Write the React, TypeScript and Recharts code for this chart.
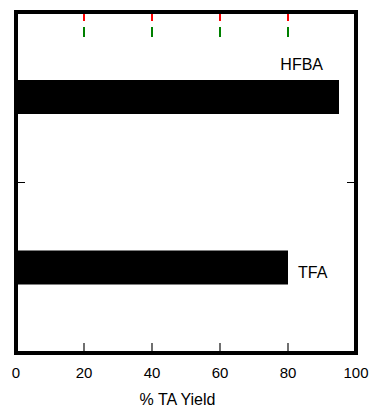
import React from 'react';
import { BarChart, Bar, XAxis, YAxis, ReferenceLine } from 'recharts';

const categories = ['HFBA', 'TFA'];
const yieldValues = [95, 80];
const xTicks = [0, 20, 40, 60, 80, 100];
const innerXTicks = [20, 40, 60, 80];
const xAxisTitle = '% TA Yield';

const data = categories.map((name, i) => ({ name, value: yieldValues[i], frame: 1 }));

const FONT = '"Liberation Sans", Arial, Helvetica, sans-serif';
const frameLine = { stroke: '#000', strokeWidth: 4, strokeLinecap: 'square' as const };

const BottomTick = (props: any) => {
  const { x, y, payload } = props;
  return (
    <text x={x} y={y + 25} textAnchor="middle" fontSize={15} fontFamily={FONT} fill="#000">
      {payload.value}
    </text>
  );
};

const NoLabel = () => <g />;

const VTickShape = (props: any) => {
  const { x1, y1, y2 } = props;
  const a = Number(y1);
  const b = Number(y2);
  const top = Math.min(a, b);
  const bottom = Math.max(a, b);
  return (
    <g>
      <line x1={x1} y1={top} x2={x1} y2={top + 9} stroke="red" strokeWidth={2} />
      <line x1={x1} y1={top + 15} x2={x1} y2={top + 25} stroke="green" strokeWidth={2} />
      <line x1={x1} y1={bottom} x2={x1} y2={bottom - 10} stroke="#333" strokeWidth={1.4} />
    </g>
  );
};

const HTickShape = (props: any) => {
  const { x1, x2, y1 } = props;
  const left = Math.min(x1, x2);
  const right = Math.max(x1, x2);
  return (
    <g>
      <line x1={left} y1={y1} x2={left + 9} y2={y1} stroke="#000" strokeWidth={1} />
      <line x1={right} y1={y1} x2={right - 9} y2={y1} stroke="#000" strokeWidth={1} />
    </g>
  );
};

const renderBarLabel = (props: any) => {
  const { x, y, width, height, index } = props;
  const name = categories[index];
  if (index === 0) {
    return (
      <text x={x + width - 16} y={y - 10} textAnchor="end" fontSize={16} fontFamily={FONT} fill="#000">
        {name}
      </text>
    );
  }
  return (
    <text x={x + width + 10} y={y + height / 2 + 10} textAnchor="start" fontSize={16} fontFamily={FONT} fill="#000">
      {name}
    </text>
  );
};

const AxisTitle = (props: any) => {
  const vb = props.viewBox || { x: 16, y: 353, width: 340 };
  return (
    <text x={vb.x + vb.width / 2 - 8.5} y={vb.y + 52} textAnchor="middle" fontSize={16} fontFamily={FONT} fill="#000">
      {xAxisTitle}
    </text>
  );
};

export default function App() {
  return (
    <div style={{ position: 'absolute', left: 0, top: 0, width: 371, height: 409, background: '#fff' }}>
      <BarChart
        width={371}
        height={409}
        data={data}
        layout="vertical"
        margin={{ top: 12, right: 15, left: 16, bottom: 0 }}
      >
        <XAxis
          xAxisId="bottom"
          type="number"
          domain={[0, 100]}
          ticks={xTicks}
          orientation="bottom"
          height={56}
          axisLine={frameLine}
          tickLine={false}
          tickSize={0}
          tickMargin={0}
          tick={<BottomTick />}
          interval={0}
          label={<AxisTitle />}
        />
        <XAxis
          xAxisId="top"
          type="number"
          dataKey="value"
          domain={[0, 100]}
          allowDataOverflow
          orientation="top"
          mirror
          axisLine={frameLine}
          tickLine={false}
          tick={<NoLabel />}
        />
        <YAxis
          yAxisId="left"
          type="number"
          dataKey="frame"
          domain={[0, 2]}
          allowDataOverflow
          orientation="left"
          mirror
          axisLine={frameLine}
          tickLine={false}
          tick={<NoLabel />}
        />
        <YAxis
          yAxisId="right"
          type="number"
          dataKey="frame"
          domain={[0, 2]}
          allowDataOverflow
          orientation="right"
          mirror
          axisLine={frameLine}
          tickLine={false}
          tick={<NoLabel />}
        />
        <YAxis yAxisId="cat" type="category" dataKey="name" hide width={0} />
        {innerXTicks.map((v) => (
          <ReferenceLine key={`xt${v}`} x={v} xAxisId="bottom" yAxisId="left" shape={<VTickShape />} />
        ))}
        <ReferenceLine y={1} xAxisId="bottom" yAxisId="left" shape={<HTickShape />} />
        <Bar
          dataKey="value"
          xAxisId="bottom"
          yAxisId="cat"
          fill="#000"
          barSize={34}
          isAnimationActive={false}
          label={renderBarLabel}
        />
      </BarChart>
    </div>
  );
}
